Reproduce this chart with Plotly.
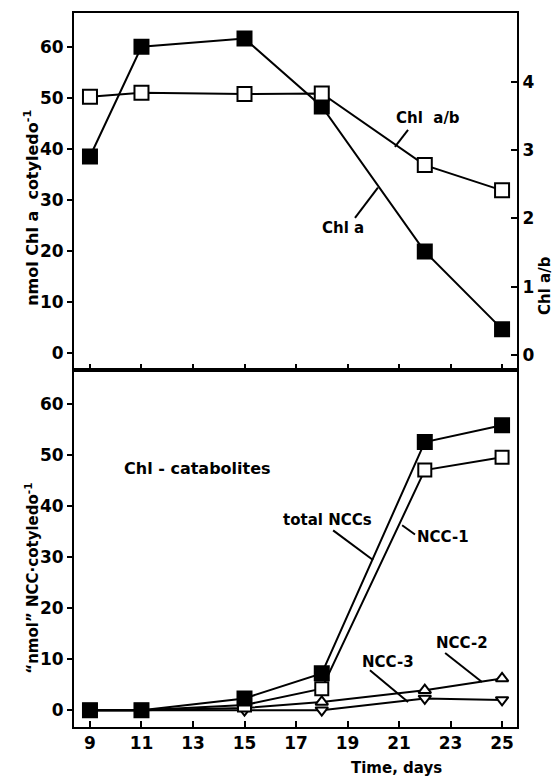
import plotly.graph_objects as go

# ---- data ----
days = [9, 11, 15, 18, 22, 25]
chl_a = [38.5, 60.0, 61.6, 48.3, 19.9, 4.7]          # nmol Chl a per cotyledo (left axis, top)
chl_ab = [3.78, 3.84, 3.82, 3.83, 2.78, 2.41]        # Chl a/b ratio (right axis, top)
total_ncc = [0.0, 0.0, 2.3, 7.2, 52.5, 55.8]         # bottom panel
ncc1 = [0.0, 0.0, 1.0, 4.2, 47.0, 49.5]
ncc2 = [0.0, 0.0, 0.4, 1.6, 3.9, 6.2]
ncc3 = [0.0, 0.0, 0.0, 0.0, 2.3, 2.0]
x_ticks = [9, 11, 13, 15, 17, 19, 21, 23, 25]
y_ticks = [0, 10, 20, 30, 40, 50, 60]
ab_ticks = [0, 1, 2, 3, 4]

FONT = "DejaVu Sans"
BLK = "black"

fig = go.Figure()

def line(x, y, xa, ya, symbol, fill, size, name):
    fig.add_trace(go.Scatter(
        x=x, y=y, xaxis=xa, yaxis=ya, mode="lines+markers", name=name,
        line=dict(color=BLK, width=2),
        marker=dict(symbol=symbol, size=size, color=fill,
                    line=dict(color=BLK, width=2)),
        showlegend=False, cliponaxis=False))

# top panel
line(days, chl_a, "x2", "y2", "square", BLK, 14, "Chl a")
line(days, chl_ab, "x2", "y3", "square", "white", 14, "Chl a/b")
# bottom panel
line(days, ncc3, "x", "y", "triangle-down", "white", 11, "NCC-3")
line(days, ncc2, "x", "y", "triangle-up", "white", 11, "NCC-2")
line(days, ncc1, "x", "y", "square", "white", 13, "NCC-1")
line(days, total_ncc, "x", "y", "square", BLK, 14, "total NCCs")

tickfont = dict(family=FONT, size=17, color=BLK, weight="bold")
xr = [8.38, 25.58]
yr = [-3.3, 66.6]
axcommon = dict(showline=True, linecolor=BLK, linewidth=2, showgrid=False,
                zeroline=False, mirror=True, tickcolor=BLK, tickwidth=2,
                tickfont=tickfont, automargin=False)

# page body adds an 8 px offset, so the figure is 8 px smaller and margins shifted
fig.update_layout(
    width=552, height=768,
    margin=dict(l=66, r=43, t=5, b=49),
    paper_bgcolor="white", plot_bgcolor="white",
    xaxis=dict(anchor="y", range=xr, tickvals=x_ticks, ticks="inside",
               ticklen=6, **axcommon),
    yaxis=dict(anchor="x", domain=[0, 0.5], range=yr, tickvals=y_ticks,
               ticks="outside", ticklen=5, **axcommon),
    xaxis2=dict(anchor="y2", range=xr, tickvals=x_ticks, ticks="inside",
                ticklen=6, showticklabels=False, **axcommon),
    yaxis2=dict(anchor="x2", domain=[0.5, 1], range=yr, tickvals=y_ticks,
                ticks="outside", ticklen=5, **axcommon),
    yaxis3=dict(anchor="x2", overlaying="y2", side="right",
                range=[-0.22, 5.007], tickvals=ab_ticks, ticks="inside",
                ticklen=6, showline=True, linecolor=BLK, linewidth=2,
                showgrid=False, zeroline=False, tickcolor=BLK, tickwidth=2,
                tickfont=tickfont, automargin=False),
)

afont = dict(family=FONT, size=15, color=BLK, weight="bold")

def label(text, x, y, xref, yref, size=15, **kw):
    f = dict(afont)
    f["size"] = size
    fig.add_annotation(text=text, x=x, y=y, xref=xref, yref=yref,
                       xanchor="center", yanchor="middle",
                       showarrow=False, font=f, **kw)

def leader(x0, y0, x1, y1, xref, yref):
    fig.add_shape(type="line", x0=x0, y0=y0, x1=x1, y1=y1, xref=xref,
                  yref=yref, line=dict(color=BLK, width=2))

# top panel labels
label("Chl  a/b", 22.13, 46.0, "x2", "y2")
leader(21.35, 43.7, 20.84, 40.4, "x2", "y2")
label("Chl a", 18.83, 24.5, "x2", "y2")
leader(19.29, 26.5, 20.18, 32.4, "x2", "y2")

# bottom panel labels
label("Chl - catabolites", 13.19, 47.4, "x", "y", size=16)
label("total NCCs", 18.24, 37.2, "x", "y")
leader(18.44, 35.2, 19.99, 29.4, "x", "y")
label("NCC-1", 22.71, 33.9, "x", "y")
leader(21.12, 36.2, 21.62, 34.4, "x", "y")
label("NCC-2", 23.45, 13.1, "x", "y")
leader(22.79, 11.2, 24.22, 5.5, "x", "y")
label("NCC-3", 20.57, 9.4, "x", "y")
leader(19.87, 7.8, 21.35, 1.6, "x", "y")

# axis titles
label("nmol Chl a  cotyledo<sup>-1</sup>", -0.095, 0.727, "paper", "paper",
      size=16, textangle=-90)
label("\u201cnmol\u201d NCC\u00b7cotyledo<sup>-1</sup>", -0.095, 0.209,
      "paper", "paper", size=15, textangle=-90)
label("Chl a/b", 1.063, 0.619, "paper", "paper", textangle=-90)
label("Time, days", 0.727, -0.058, "paper", "paper")

fig.write_html("out.html")
